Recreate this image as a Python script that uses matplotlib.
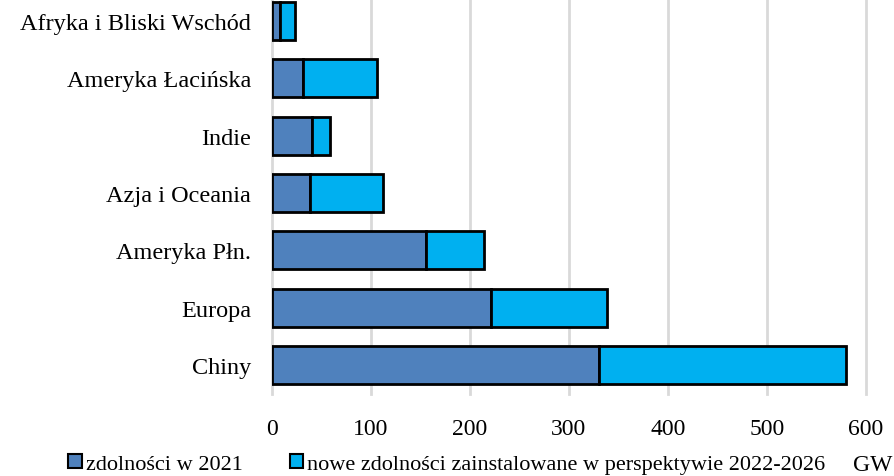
import matplotlib.pyplot as plt
from matplotlib.patches import Patch

regions = ["Afryka i Bliski Wschód", "Ameryka Łacińska", "Indie", "Azja i Oceania",
           "Ameryka Płn.", "Europa", "Chiny"]
cap_2021 = [8.5, 31, 40, 38.5, 156, 221, 330]
cap_new = [15, 75, 19, 74, 58, 117.5, 250]
ticks = [0, 100, 200, 300, 400, 500, 600]

plt.rcParams['font.family'] = ['Liberation Serif', 'DejaVu Serif']

W, H = 894, 477
fig = plt.figure(figsize=(W / 100, H / 100), dpi=100)
# axes spans x 272..866 px, y 395 px (bottom) and runs slightly above the top edge
ax = fig.add_axes([272 / W, 82 / H, 594 / W, 402 / H])

c1 = '#4f81bd'
c2 = '#00b0f0'
# reversed so the first region sits at the top
y = list(range(len(regions)))[::-1]
ax.barh(y, cap_2021, height=0.66, color=c1, edgecolor='black', linewidth=2, zorder=3)
ax.barh(y, cap_new, left=cap_2021, height=0.66, color=c2, edgecolor='black', linewidth=2, zorder=3)

ax.set_xlim(0, 600)
ax.set_ylim(-0.5, 6.5)
ax.set_xticks(ticks)
ax.set_xticklabels([str(t) for t in ticks], fontsize=17)
ax.set_yticks(y)
ax.set_yticklabels(regions, fontsize=17.5)
ax.tick_params(axis='y', length=0, pad=15)
ax.tick_params(axis='x', length=0, pad=17)
ax.grid(axis='x', color='#d9d9d9', linewidth=2, zorder=0)
for gl in ax.xaxis.get_gridlines():
    gl.set_clip_on(False)
for s in ax.spines.values():
    s.set_visible(False)

handles = [Patch(facecolor=c1, edgecolor='black', linewidth=1.5),
           Patch(facecolor=c2, edgecolor='black', linewidth=1.5)]
fig.legend(handles, ["zdolności w 2021", "nowe zdolności zainstalowane w perspektywie 2022-2026"],
           loc='center', bbox_to_anchor=(447 / W, 1 - 465 / H), ncol=2, frameon=False,
           fontsize=16, handlelength=0.6, handleheight=0.6, handletextpad=0.2,
           columnspacing=2.1, borderpad=0)
fig.text(873 / W, 1 - 466 / H, "GW", fontsize=17, ha='center', va='center')

fig.savefig('out.png', dpi=100)
